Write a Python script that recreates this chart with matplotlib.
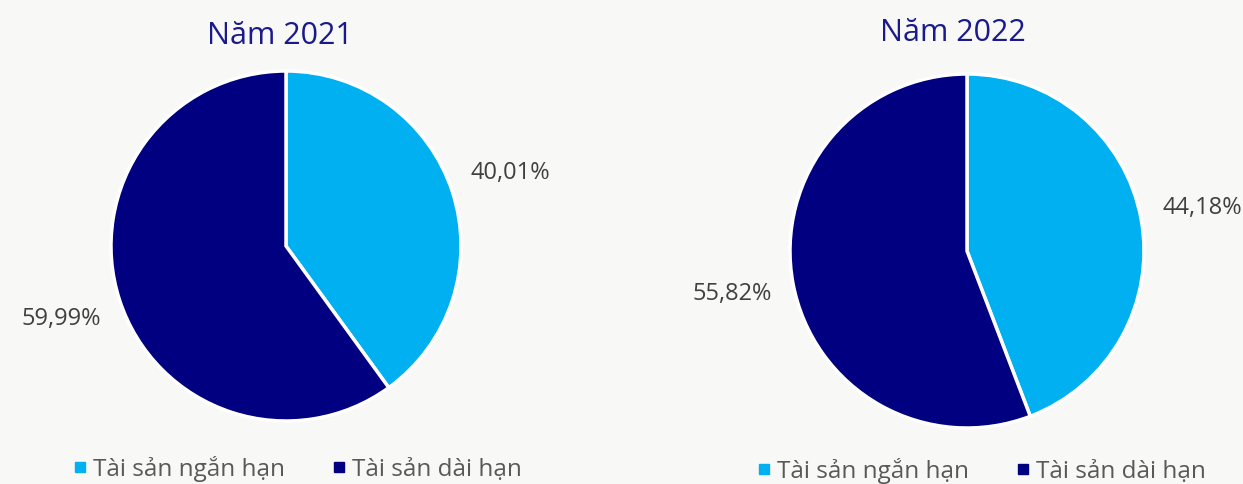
import matplotlib.pyplot as plt
from matplotlib.lines import Line2D

plt.rcParams['font.family'] = ['Open Sans', 'Noto Sans', 'DejaVu Sans']

categories = ['Tài sản ngắn hạn', 'Tài sản dài hạn']
years = ['Năm 2021', 'Năm 2022']
shares_2021 = [40.01, 59.99]
shares_2022 = [44.18, 55.82]

colors = ['#00B0F0', '#000080']
bg = '#f8f8f6'

fig = plt.figure(figsize=(12.43, 4.84), dpi=100, facecolor=bg)
W, H = 1243, 484

# pie centres and radii in pixels, plus title / legend positions
panels = [
    dict(data=shares_2021, title=years[0], cx=286, cy=246, r=175,
         ty=36, tx=280, lx=298, ly=469),
    dict(data=shares_2022, title=years[1], cx=967, cy=251, r=177,
         ty=33, tx=953, lx=982, ly=471),
]


def fmt(p):
    return f"{p:.2f}%".replace('.', ',')


for p in panels:
    r = p['r']
    ax = fig.add_axes([(p['cx'] - r) / W, (H - p['cy'] - r) / H, 2 * r / W, 2 * r / H])
    ax.set_facecolor(bg)
    wedges, _, autotexts = ax.pie(
        p['data'], colors=colors, startangle=90, counterclock=False,
        autopct=fmt, pctdistance=1.35,
        wedgeprops=dict(edgecolor='white', linewidth=2.5),
        textprops=dict(color='#404040', fontsize=17))
    ax.set_xlim(-1, 1)
    ax.set_ylim(-1, 1)
    fig.text(p['tx'] / W, 1 - p['ty'] / H, p['title'], ha='center', va='center',
             fontsize=22, color='#1a1a8c')
    handles = [Line2D([], [], marker='s', linestyle='none', markersize=7,
                      markerfacecolor=c, markeredgecolor=c) for c in colors]
    fig.legend(handles, categories, loc='center', ncol=2,
               bbox_to_anchor=(p['lx'] / W, 1 - p['ly'] / H),
               frameon=False, fontsize=17.5, labelcolor='#595959',
               handlelength=0.45, handletextpad=0.3, columnspacing=2.0)

fig.savefig('out.png', dpi=100, facecolor=bg)
